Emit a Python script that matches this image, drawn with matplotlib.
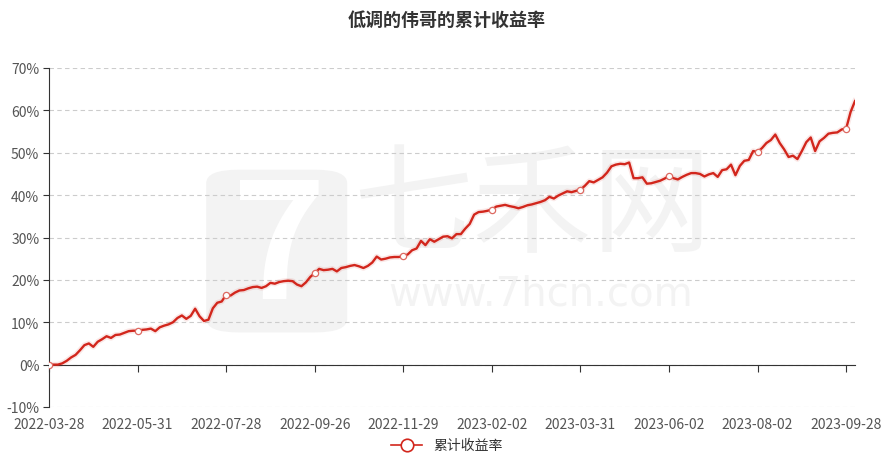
import numpy as np
import matplotlib.pyplot as plt
from matplotlib.patches import FancyBboxPatch

plt.rcParams['font.family'] = ['Noto Sans CJK SC', 'DejaVu Sans']

title = '低调的伟哥的累计收益率'
series_name = '累计收益率'

# tick labels, one every 20 points
tick_labels = ['2022-03-28', '2022-05-31', '2022-07-28', '2022-09-26', '2022-11-29',
               '2023-02-02', '2023-03-31', '2023-06-02', '2023-08-02', '2023-09-28']
tick_step = 20

# cumulative return in %
returns = [
    0.0, 0.0, 0.0, 0.3, 0.9, 1.7, 2.3, 3.4, 4.6, 5.0,
    4.2, 5.4, 6.0, 6.7, 6.3, 7.0, 7.1, 7.5, 7.9, 8.0,
    8.0, 8.2, 8.3, 8.5, 7.9, 8.8, 9.2, 9.5, 10.0, 11.0,
    11.6, 10.8, 11.5, 13.2, 11.4, 10.3, 10.6, 13.3, 14.6, 14.9,
    16.5, 16.3, 17.0, 17.5, 17.6, 18.0, 18.3, 18.4, 18.1, 18.5,
    19.3, 19.1, 19.5, 19.7, 19.8, 19.7, 18.9, 18.5, 19.4, 20.7,
    21.6, 22.6, 22.3, 22.4, 22.6, 22.0, 22.8, 23.0, 23.3, 23.5,
    23.2, 22.8, 23.3, 24.1, 25.5, 24.8, 25.0, 25.3, 25.4, 25.4,
    25.6, 26.0, 27.0, 27.4, 29.2, 28.2, 29.6, 29.0, 29.6, 30.2,
    30.3, 29.8, 30.8, 30.8, 32.1, 33.2, 35.4, 36.0, 36.1, 36.3,
    36.6, 37.3, 37.5, 37.7, 37.4, 37.2, 36.9, 37.2, 37.6, 37.8,
    38.1, 38.4, 38.8, 39.6, 39.2, 39.9, 40.4, 40.9, 40.7, 41.0,
    41.3, 42.2, 43.3, 43.0, 43.6, 44.2, 45.3, 46.8, 47.2, 47.4,
    47.3, 47.7, 44.0, 44.0, 44.2, 42.7, 42.8, 43.1, 43.4, 43.9,
    44.5, 44.0, 43.7, 44.3, 44.8, 45.2, 45.2, 45.0, 44.4, 44.9,
    45.2, 44.3, 45.9, 46.1, 47.2, 44.7, 46.9, 48.1, 48.3, 50.4,
    50.2, 51.1, 52.3, 53.0, 54.3, 52.3, 50.8, 49.0, 49.3, 48.5,
    50.4, 52.5, 53.6, 50.4, 52.7, 53.5, 54.5, 54.7, 54.8, 55.5,
    55.7, 59.6, 62.2,
]

yticks = [-10, 0, 10, 20, 30, 40, 50, 60, 70]

red = '#d2261c'
x = np.arange(len(returns))
y = np.array(returns)
tick_pos = np.arange(len(tick_labels)) * tick_step

fig = plt.figure(figsize=(8.94, 4.64), dpi=100)
ax = fig.add_axes([49 / 894, 1 - 408 / 464, 806 / 894, 339 / 464])

# watermark
wm = '#f3f3f3'
ax.add_patch(FancyBboxPatch((0.195, 0.22), 0.175, 0.48, boxstyle='round,pad=0,rounding_size=0.04',
                            transform=ax.transAxes, fc=wm, ec='none', zorder=0))
ax.text(0.285, 0.46, '7', transform=ax.transAxes, fontsize=115, color='white',
        ha='center', va='center', fontweight='bold', zorder=0)
ax.text(0.6, 0.585, '七禾网', transform=ax.transAxes, fontsize=86, color=wm,
        ha='center', va='center', zorder=0)
ax.text(0.61, 0.335, 'www.7hcn.com', transform=ax.transAxes, fontsize=29, color=wm,
        ha='center', va='center', zorder=0, family='DejaVu Sans')

ax.plot(x, y, color=red, lw=4, alpha=0.1, zorder=2, solid_joinstyle='round')
ax.plot(x, y, color=red, lw=1.7, zorder=3, solid_joinstyle='round')
ax.plot(tick_pos, y[tick_pos], 'o', ms=4.5, mfc='white', mec='#dd6a62', mew=0.9, zorder=4)

ax.set_xlim(0, len(returns) - 1)
ax.set_ylim(-10, 70)
ax.set_yticks(yticks)
ax.set_yticklabels([f'{v}%' for v in yticks])
ax.grid(axis='y', color='#cccccc', ls=(0, (4, 3)), lw=0.8)
ax.set_axisbelow(True)

for s in ['top', 'right']:
    ax.spines[s].set_visible(False)
ax.spines['left'].set_color('#333333')
ax.spines['bottom'].set_color('#333333')
ax.spines['bottom'].set_position(('data', 0))
ax.spines['bottom'].set_zorder(1)

ax.set_xticks(tick_pos)
ax.set_xticklabels([])
ax.tick_params(axis='x', length=5, color='#333333')
ax.tick_params(axis='y', length=4, color='#333333', labelsize=10, labelcolor='#555555', pad=3)
for p, lab in zip(tick_pos, tick_labels):
    ax.text(p, -0.03, lab, transform=ax.get_xaxis_transform(), ha='center', va='top',
            fontsize=10, color='#555555')

fig.text(0.5, 0.955, title, ha='center', va='center', fontsize=13, fontweight='bold', color='#333333')

h, = ax.plot([], [], '-o', color=red, lw=1.2, ms=9, mfc='white', mec=red, mew=1.2)
fig.legend([h], [series_name], loc='center', bbox_to_anchor=(0.5, 0.038), frameon=False,
           fontsize=10, handlelength=2.2, labelcolor='#333333')

fig.savefig('out.png', dpi=100)
